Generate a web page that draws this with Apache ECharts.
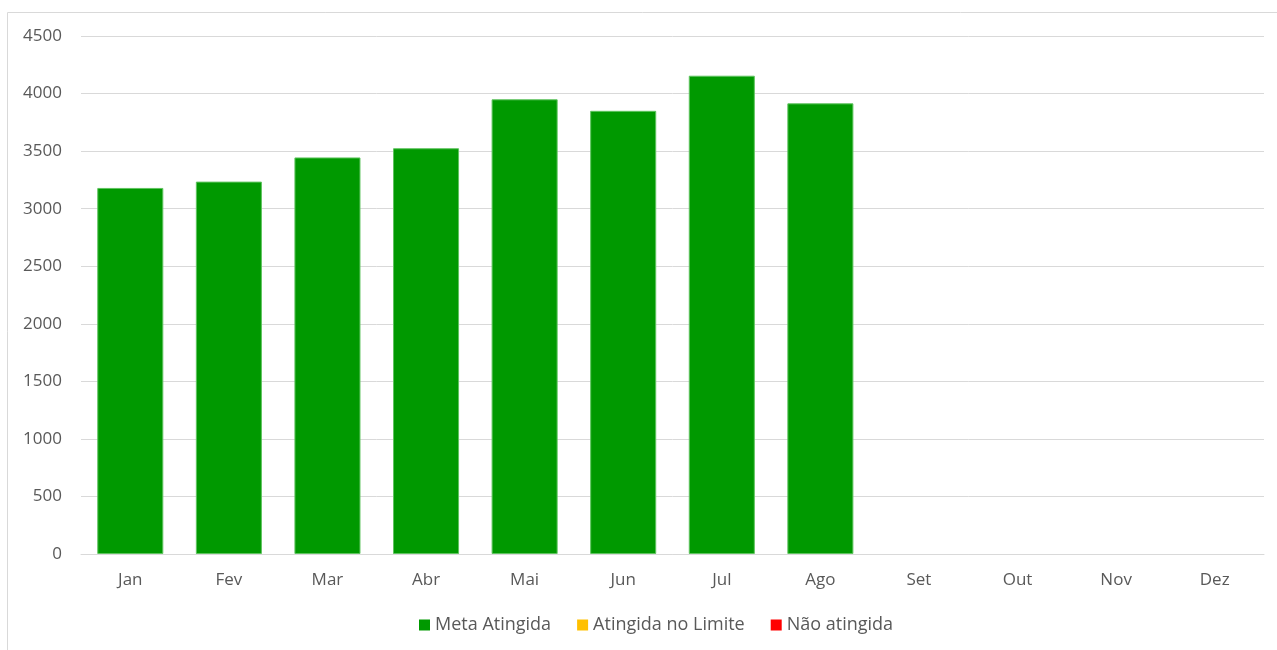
<!DOCTYPE html>
<html>
<head>
<meta charset="utf-8">
<script src="https://cdn.jsdelivr.net/npm/echarts@6/dist/echarts.min.js"></script>
<style>
html,body{margin:0;padding:0;background:#fff;}
#c{width:1277px;height:650px;}
</style>
</head>
<body>
<div id="c"></div>
<script>
const categories = ['Jan','Fev','Mar','Abr','Mai','Jun','Jul','Ago','Set','Out','Nov','Dez'];
const metaAtingida = [3180, 3235, 3445, 3525, 3950, 3850, 4155, 3915, null, null, null, null];
const atingidaLimite = [null, null, null, null, null, null, null, null, null, null, null, null];
const naoAtingida = [null, null, null, null, null, null, null, null, null, null, null, null];
const seriesNames = ['Meta Atingida', 'Atingida no Limite', 'Não atingida'];

const font = "'Open Sans', 'Noto Sans', sans-serif";
const chart = echarts.init(document.getElementById('c'));
chart.setOption({
  animation: false,
  graphic: [{
    type: 'rect',
    shape: {x: 7.5, y: 12.5, width: 1290, height: 660},
    style: {fill: 'none', stroke: '#d9d9d9', lineWidth: 1},
    silent: true
  }],
  grid: {left: 81, right: 13, top: 36, bottom: 96, containLabel: false},
  legend: {
    bottom: 11,
    left: 414,
    itemWidth: 11, itemHeight: 11, itemGap: 26,
    icon: 'rect',
    itemStyle: {borderWidth: 0},
    textStyle: {color: '#595959', fontSize: 18, fontFamily: font},
    data: seriesNames
  },
  xAxis: {
    type: 'category',
    data: categories,
    axisLine: {lineStyle: {color: '#d9d9d9'}},
    axisTick: {show: false},
    axisLabel: {color: '#595959', fontSize: 17, fontFamily: font, margin: 18}
  },
  yAxis: {
    type: 'value',
    min: 0, max: 4500, interval: 500,
    axisLine: {show: false},
    axisTick: {show: false},
    splitLine: {lineStyle: {color: '#d9d9d9'}},
    axisLabel: {color: '#595959', fontSize: 17, fontFamily: font, margin: 19,
                formatter: function (v) { return String(v); }}
  },
  series: [
    {name: seriesNames[0], type: 'bar', stack: 's', data: metaAtingida, barCategoryGap: '33%',
     itemStyle: {color: '#009900', borderColor: '#5fc45f', borderWidth: 1}},
    {name: seriesNames[1], type: 'bar', stack: 's', data: atingidaLimite,
     itemStyle: {color: '#ffc000'}},
    {name: seriesNames[2], type: 'bar', stack: 's', data: naoAtingida,
     itemStyle: {color: '#ff0000'}}
  ]
});
</script>
</body>
</html>
